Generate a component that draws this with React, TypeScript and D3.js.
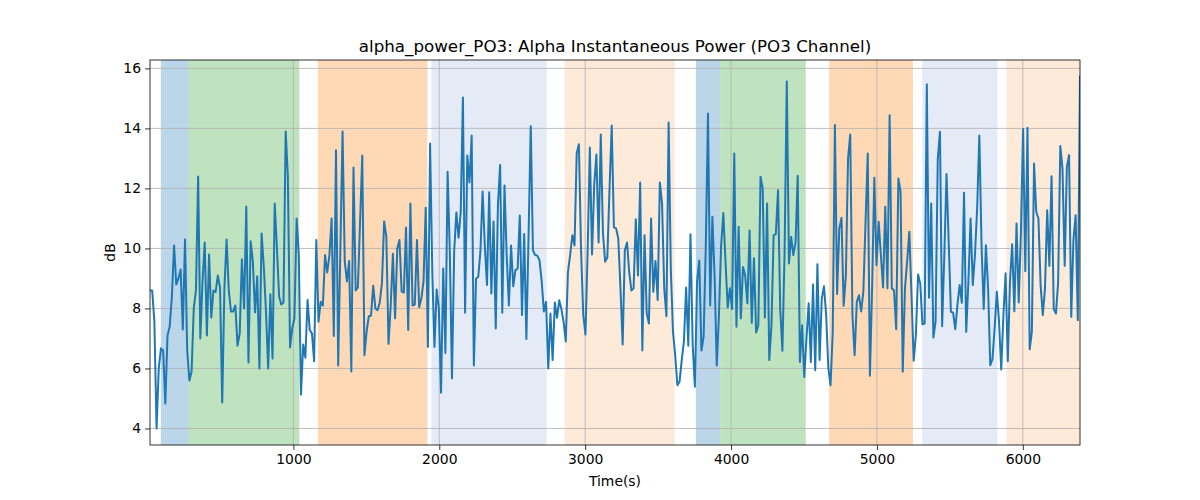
import * as React from "react";
import * as d3 from "d3";

// sample times: first sample and spacing (s)
const t0 = 17;
const dt = 15;

const alphaPower = [
  8.6, 8.6, 7.56, 4.0, 6.0, 6.67, 6.6, 4.83, 7.1, 7.4, 8.4, 10.1, 8.8, 9.0, 9.3, 7.3, 10.3, 6.6, 5.6, 5.9,
  8.0, 8.6, 12.4, 7.0, 8.9, 10.2, 7.1, 9.8, 7.7, 8.6, 8.55, 9.1, 8.7, 4.87, 8.67, 10.3, 8.6, 7.9, 7.9, 8.1,
  6.76, 7.17, 9.64, 8.0, 11.4, 6.2, 10.24, 9.56, 7.87, 9.07, 6.0, 10.5, 9.4, 7.9, 6.0, 8.47, 6.33, 11.5, 10.0, 8.4,
  8.13, 8.2, 13.9, 12.4, 6.7, 7.33, 7.67,
  11.0, 9.78, 5.13, 6.8, 6.36, 8.28, 7.28, 7.17, 6.24, 10.28, 7.56, 8.22, 8.1, 9.78, 9.2, 9.78, 11.0, 7.08, 13.27, 6.1,
  10.0, 13.9, 9.56, 8.9, 9.58, 5.9, 12.7, 8.6, 8.7, 10.9, 13.1, 6.44, 7.24, 7.74, 7.76, 8.76, 8.0, 7.94, 8.2, 8.86,
  10.9, 10.4, 6.82, 8.1, 9.82, 7.67, 10.0, 10.28, 8.56, 8.53, 10.7, 7.28, 11.5, 8.1, 8.13, 10.28, 8.04, 8.33, 8.9, 11.36,
  6.72, 13.5, 9.2, 6.72, 8.63, 8.0, 5.19, 9.33, 6.52,
  12.56, 9.9, 5.67, 9.9, 11.2, 10.36, 11.2, 15.03, 7.86, 13.1, 12.2, 13.76, 6.1, 9.0, 9.05, 9.9, 11.9, 10.1, 8.78, 11.87,
  8.5, 10.9, 7.33, 11.44, 12.78, 7.86, 12.1, 9.78, 8.1, 10.1, 8.74, 9.28, 9.33, 11.1, 7.78, 10.48, 6.98, 10.44, 14.07, 9.94,
  9.78, 9.76, 9.6, 8.9, 7.9, 8.22, 6.0, 7.83, 6.28, 8.2, 7.69, 8.27, 7.98, 7.56, 6.9, 9.22, 9.78, 10.44, 10.1, 13.17,
  13.47, 9.9, 7.78, 7.13, 9.9, 13.36, 9.8,
  12.13, 13.13, 10.2, 13.8, 10.5, 9.56, 9.7, 12.0, 14.1, 10.7, 10.67, 10.33, 8.67, 6.8, 9.94, 10.2, 9.2, 8.6, 8.67, 10.97,
  9.1, 12.2, 6.6, 10.44, 7.83, 7.5, 11.0, 8.56, 9.58, 8.28, 12.2, 11.5, 8.67, 7.74, 14.2, 9.33, 7.22, 6.44, 5.44, 5.56,
  6.28, 6.9, 8.7, 6.76, 10.47, 6.78, 5.39, 8.9, 9.6, 6.6, 7.06, 10.1, 14.5, 8.1, 11.06, 9.1, 6.1, 7.78, 10.1, 11.18,
  9.56, 8.03, 8.67, 7.98, 13.16, 7.39, 10.72, 7.67, 9.38,
  9.1, 8.17, 10.6, 7.52, 9.67, 7.2, 7.44, 12.39, 12.0, 7.7, 11.5, 6.28, 7.44, 10.44, 10.48, 11.94, 8.0, 6.59, 9.89, 15.56,
  9.5, 10.39, 9.78, 10.2, 12.42, 6.22, 7.44, 5.72, 7.0, 8.17, 6.22, 8.8, 5.94, 9.47, 6.28, 8.33, 8.74, 7.78, 6.0, 5.44,
  7.22, 14.11, 8.48, 10.67, 11.02, 8.09, 9.1, 13.0, 13.8, 7.78, 6.44, 8.22, 8.44, 7.9, 8.56, 10.89, 13.16, 5.76, 8.67, 12.36,
  9.44, 10.89, 9.78, 8.7, 11.39, 8.67, 14.44, 8.67, 8.61,
  7.31, 12.33, 11.89, 5.89, 8.67, 9.56, 10.56, 8.44, 6.26, 7.11, 9.13, 8.83, 7.47, 7.5, 15.47, 8.36, 11.5, 7.03, 7.56, 12.98,
  13.89, 7.41, 9.78, 12.48, 10.2, 7.89, 7.86, 7.31, 8.13, 8.78, 8.19, 11.86, 7.22, 8.89, 11.0, 8.78, 9.78, 11.33, 13.76, 10.11,
  7.98, 10.11, 8.67, 6.11, 6.31, 7.36, 8.56, 7.56, 5.97, 7.78, 9.17, 6.24, 8.89, 10.14, 7.91, 10.83, 8.2, 10.56, 13.98, 9.24,
  14.02, 6.64, 7.22, 12.83, 11.22, 11.0, 8.78, 7.78, 8.67, 11.27, 9.42, 12.41, 7.98, 7.83, 8.86, 13.41, 12.67, 9.42, 12.72, 13.11,
  7.72, 10.28, 11.11, 7.61, 15.76,
];

// shaded stage segments (s)
const spanStarts = [91, 282, 1168, 1946, 2860, 3759, 3926, 4672, 5311, 5888];
const spanEnds = [282, 1041, 1918, 2736, 3613, 3926, 4512, 5247, 5826, 6410];
const spanStages = ["A", "B", "C", "D", "E", "A", "B", "C", "D", "E"];

const xTicks = [1000, 2000, 3000, 4000, 5000, 6000];
const yTicks = [4, 6, 8, 10, 12, 14, 16];

const stageColor: Record<string, string> = {
  A: "rgba(31,119,180,0.3)",
  B: "rgba(44,160,44,0.3)",
  C: "rgba(255,127,14,0.3)",
  D: "rgba(31,90,190,0.12)",
  E: "rgba(250,140,40,0.18)",
};

export default function App() {
  const ref = React.useRef<SVGSVGElement>(null);

  React.useEffect(() => {
    const svg = d3.select(ref.current);
    svg.selectAll("*").remove();

    const W = 1200;
    const H = 500;
    const margin = { top: 60, right: 120, bottom: 55, left: 150 };
    const font = "DejaVu Sans, sans-serif";

    const times = alphaPower.map((_, i) => t0 + i * dt);
    const x = d3
      .scaleLinear()
      .domain([times[0], times[times.length - 1]])
      .range([margin.left, W - margin.right]);
    const y = d3
      .scaleLinear()
      .domain([3.45, 16.28])
      .range([H - margin.bottom, margin.top]);

    svg.append("rect").attr("width", W).attr("height", H).attr("fill", "white");

    const defs = svg.append("defs");
    defs
      .append("clipPath")
      .attr("id", "plot-clip")
      .append("rect")
      .attr("x", margin.left)
      .attr("y", margin.top)
      .attr("width", W - margin.left - margin.right)
      .attr("height", H - margin.top - margin.bottom);

    const plot = svg.append("g").attr("clip-path", "url(#plot-clip)");

    plot
      .selectAll(".span")
      .data(spanStarts)
      .enter()
      .append("rect")
      .attr("x", (d) => x(d))
      .attr("y", margin.top)
      .attr("width", (d, i) => x(spanEnds[i]) - x(d))
      .attr("height", H - margin.top - margin.bottom)
      .attr("fill", (d, i) => stageColor[spanStages[i]]);

    // grid
    plot
      .selectAll(".gx")
      .data(xTicks)
      .enter()
      .append("line")
      .attr("x1", (d) => x(d))
      .attr("x2", (d) => x(d))
      .attr("y1", margin.top)
      .attr("y2", H - margin.bottom)
      .attr("stroke", "#b0b0b0")
      .attr("stroke-width", 0.8);
    plot
      .selectAll(".gy")
      .data(yTicks)
      .enter()
      .append("line")
      .attr("x1", margin.left)
      .attr("x2", W - margin.right)
      .attr("y1", (d) => y(d))
      .attr("y2", (d) => y(d))
      .attr("stroke", "#b0b0b0")
      .attr("stroke-width", 0.8);

    const line = d3
      .line<number>()
      .x((d, i) => x(times[i]))
      .y((d) => y(d));

    plot
      .append("path")
      .datum(alphaPower)
      .attr("d", line)
      .attr("fill", "none")
      .attr("stroke", "#1f77b4")
      .attr("stroke-width", 2)
      .attr("stroke-linejoin", "round");

    // axes
    const xAxis = svg
      .append("g")
      .attr("transform", "translate(0," + (H - margin.bottom) + ")")
      .call(d3.axisBottom(x).tickValues(xTicks).tickSize(5).tickPadding(4).tickFormat(d3.format("d")));
    const yAxis = svg
      .append("g")
      .attr("transform", "translate(" + margin.left + ",0)")
      .call(d3.axisLeft(y).tickValues(yTicks).tickSize(5).tickPadding(4).tickFormat(d3.format("d")));

    [xAxis, yAxis].forEach((a) => {
      a.select(".domain").remove();
      a.selectAll("text").attr("font-family", font).attr("font-size", "13.9px").attr("fill", "black");
      a.selectAll("line").attr("stroke", "black").attr("stroke-width", 0.8);
    });

    svg
      .append("rect")
      .attr("x", margin.left)
      .attr("y", margin.top)
      .attr("width", W - margin.left - margin.right)
      .attr("height", H - margin.top - margin.bottom)
      .attr("fill", "none")
      .attr("stroke", "black")
      .attr("stroke-width", 0.8);

    svg
      .append("text")
      .text("alpha_power_PO3: Alpha Instantaneous Power (PO3 Channel)")
      .attr("x", (margin.left + W - margin.right) / 2)
      .attr("y", margin.top - 8)
      .attr("text-anchor", "middle")
      .attr("font-family", font)
      .attr("font-size", "16.7px");

    svg
      .append("text")
      .text("Time(s)")
      .attr("x", (margin.left + W - margin.right) / 2)
      .attr("y", 486)
      .attr("text-anchor", "middle")
      .attr("font-family", font)
      .attr("font-size", "13.9px");

    svg
      .append("text")
      .text("dB")
      .attr("transform", "translate(115," + (margin.top + H - margin.bottom) / 2 + ") rotate(-90)")
      .attr("text-anchor", "middle")
      .attr("font-family", font)
      .attr("font-size", "13.9px");
  }, []);

  return (
    <div style={{ position: "absolute", left: 0, top: 0 }}>
      <svg ref={ref} width={1200} height={500} style={{ display: "block" }} />
    </div>
  );
}
